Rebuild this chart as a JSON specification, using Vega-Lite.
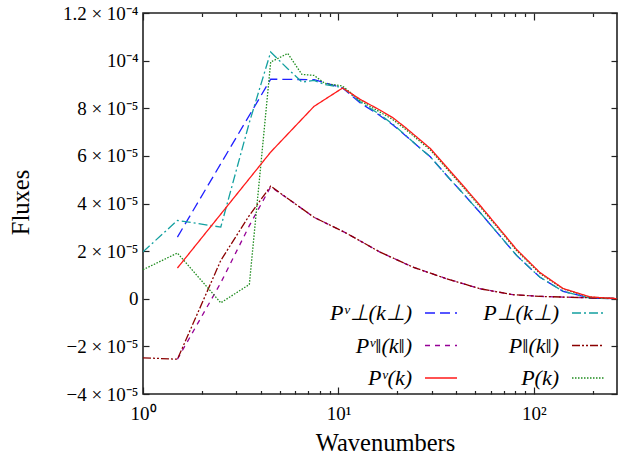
{
  "$schema": "https://vega.github.io/schema/vega-lite/v6.json",
  "width": 474,
  "height": 381,
  "autosize": {"type": "none"},
  "padding": {"left": 143, "top": 13, "right": 1, "bottom": 63},
  "config": {
    "view": {"stroke": "#222", "strokeWidth": 1.6},
    "font": "Liberation Serif",
    "axis": {"domain": false, "grid": false, "labelFont": "Liberation Serif", "labelFontSize": 19, "labelColor": "#000", "tickColor": "#222", "tickWidth": 1.2, "titleFont": "Liberation Serif", "titleFontSize": 24, "titleFontWeight": "normal", "titleColor": "#000", "labelOverlap": false, "labelFlush": false}
  },
  "data": {"values": [
    {"s": "pvperp", "k": 1.5, "f": 2.59e-5},
    {"s": "pvperp", "k": 4.5, "f": 9.22e-5},
    {"s": "pvperp", "k": 7.5, "f": 9.2e-5},
    {"s": "pvperp", "k": 10.5, "f": 8.85e-5},
    {"s": "pvperp", "k": 13, "f": 8.21e-5},
    {"s": "pvperp", "k": 16, "f": 7.74e-5},
    {"s": "pvperp", "k": 19, "f": 7.30e-5},
    {"s": "pvperp", "k": 22, "f": 6.86e-5},
    {"s": "pvperp", "k": 26, "f": 6.34e-5},
    {"s": "pvperp", "k": 29.5, "f": 5.96e-5},
    {"s": "pvperp", "k": 37, "f": 5.04e-5},
    {"s": "pvperp", "k": 43.5, "f": 4.41e-5},
    {"s": "pvperp", "k": 53, "f": 3.62e-5},
    {"s": "pvperp", "k": 64.5, "f": 2.80e-5},
    {"s": "pvperp", "k": 81.5, "f": 1.82e-5},
    {"s": "pvperp", "k": 107, "f": 0.91e-5},
    {"s": "pvperp", "k": 141, "f": 0.31e-5},
    {"s": "pvperp", "k": 193, "f": 0.03e-5},
    {"s": "pvperp", "k": 265, "f": 0.0},

    {"s": "pvpar", "k": 1.5, "f": -2.54e-5},
    {"s": "pvpar", "k": 2.5, "f": 0.67e-5},
    {"s": "pvpar", "k": 3.5, "f": 3.07e-5},
    {"s": "pvpar", "k": 4.5, "f": 4.7e-5},
    {"s": "pvpar", "k": 5.5, "f": 4.21e-5},
    {"s": "pvpar", "k": 7.5, "f": 3.42e-5},
    {"s": "pvpar", "k": 11, "f": 2.75e-5},
    {"s": "pvpar", "k": 16.3, "f": 1.96e-5},
    {"s": "pvpar", "k": 24, "f": 1.33e-5},
    {"s": "pvpar", "k": 35.7, "f": 0.84e-5},
    {"s": "pvpar", "k": 53, "f": 0.42e-5},
    {"s": "pvpar", "k": 78, "f": 0.17e-5},
    {"s": "pvpar", "k": 107, "f": 0.10e-5},
    {"s": "pvpar", "k": 141, "f": 0.07e-5},
    {"s": "pvpar", "k": 193, "f": 0.04e-5},
    {"s": "pvpar", "k": 265, "f": 0.01e-5},

    {"s": "pperp", "k": 1, "f": 1.97e-5},
    {"s": "pperp", "k": 1.5, "f": 3.29e-5},
    {"s": "pperp", "k": 2.5, "f": 3.01e-5},
    {"s": "pperp", "k": 3.5, "f": 7.4e-5},
    {"s": "pperp", "k": 4.5, "f": 10.36e-5},
    {"s": "pperp", "k": 5.5, "f": 9.66e-5},
    {"s": "pperp", "k": 6.5, "f": 9.1e-5},
    {"s": "pperp", "k": 7.5, "f": 9.17e-5},
    {"s": "pperp", "k": 8.5, "f": 9.0e-5},
    {"s": "pperp", "k": 10.5, "f": 8.87e-5},
    {"s": "pperp", "k": 13, "f": 8.25e-5},
    {"s": "pperp", "k": 16, "f": 7.78e-5},
    {"s": "pperp", "k": 19, "f": 7.33e-5},
    {"s": "pperp", "k": 22, "f": 6.87e-5},
    {"s": "pperp", "k": 26, "f": 6.34e-5},
    {"s": "pperp", "k": 29.5, "f": 5.96e-5},
    {"s": "pperp", "k": 37, "f": 5.04e-5},
    {"s": "pperp", "k": 43.5, "f": 4.41e-5},
    {"s": "pperp", "k": 53, "f": 3.62e-5},
    {"s": "pperp", "k": 64.5, "f": 2.80e-5},
    {"s": "pperp", "k": 81.5, "f": 1.82e-5},
    {"s": "pperp", "k": 107, "f": 0.91e-5},
    {"s": "pperp", "k": 141, "f": 0.31e-5},
    {"s": "pperp", "k": 193, "f": 0.03e-5},
    {"s": "pperp", "k": 265, "f": 0.0},

    {"s": "ppar", "k": 1, "f": -2.48e-5},
    {"s": "ppar", "k": 1.5, "f": -2.54e-5},
    {"s": "ppar", "k": 2.5, "f": 1.61e-5},
    {"s": "ppar", "k": 3.5, "f": 3.5e-5},
    {"s": "ppar", "k": 4.5, "f": 4.73e-5},
    {"s": "ppar", "k": 5.5, "f": 4.21e-5},
    {"s": "ppar", "k": 7.5, "f": 3.42e-5},
    {"s": "ppar", "k": 11, "f": 2.75e-5},
    {"s": "ppar", "k": 16.3, "f": 1.96e-5},
    {"s": "ppar", "k": 24, "f": 1.33e-5},
    {"s": "ppar", "k": 35.7, "f": 0.84e-5},
    {"s": "ppar", "k": 53, "f": 0.42e-5},
    {"s": "ppar", "k": 78, "f": 0.17e-5},
    {"s": "ppar", "k": 107, "f": 0.10e-5},
    {"s": "ppar", "k": 141, "f": 0.07e-5},
    {"s": "ppar", "k": 193, "f": 0.04e-5},
    {"s": "ppar", "k": 265, "f": 0.01e-5},

    {"s": "p", "k": 1, "f": 1.22e-5},
    {"s": "p", "k": 1.5, "f": 1.92e-5},
    {"s": "p", "k": 2.5, "f": -0.17e-5},
    {"s": "p", "k": 3.5, "f": 0.6e-5},
    {"s": "p", "k": 4.5, "f": 9.94e-5},
    {"s": "p", "k": 5.5, "f": 10.3e-5},
    {"s": "p", "k": 6.5, "f": 9.42e-5},
    {"s": "p", "k": 7.5, "f": 9.38e-5},
    {"s": "p", "k": 8.5, "f": 9.05e-5},
    {"s": "p", "k": 10.5, "f": 8.93e-5},
    {"s": "p", "k": 13, "f": 8.3e-5},
    {"s": "p", "k": 16, "f": 7.88e-5},
    {"s": "p", "k": 19, "f": 7.52e-5},
    {"s": "p", "k": 22, "f": 7.12e-5},
    {"s": "p", "k": 26, "f": 6.62e-5},
    {"s": "p", "k": 29.5, "f": 6.25e-5},
    {"s": "p", "k": 37, "f": 5.33e-5},
    {"s": "p", "k": 43.5, "f": 4.68e-5},
    {"s": "p", "k": 53, "f": 3.86e-5},
    {"s": "p", "k": 64.5, "f": 3.03e-5},
    {"s": "p", "k": 81.5, "f": 2.02e-5},
    {"s": "p", "k": 107, "f": 1.07e-5},
    {"s": "p", "k": 141, "f": 0.41e-5},
    {"s": "p", "k": 193, "f": 0.07e-5},
    {"s": "p", "k": 265, "f": 0.0},

    {"s": "pv", "k": 1.5, "f": 1.29e-5},
    {"s": "pv", "k": 4.5, "f": 6.16e-5},
    {"s": "pv", "k": 7.5, "f": 8.08e-5},
    {"s": "pv", "k": 10.5, "f": 8.85e-5},
    {"s": "pv", "k": 13, "f": 8.36e-5},
    {"s": "pv", "k": 16, "f": 7.96e-5},
    {"s": "pv", "k": 19, "f": 7.60e-5},
    {"s": "pv", "k": 22, "f": 7.19e-5},
    {"s": "pv", "k": 26, "f": 6.69e-5},
    {"s": "pv", "k": 29.5, "f": 6.31e-5},
    {"s": "pv", "k": 37, "f": 5.39e-5},
    {"s": "pv", "k": 43.5, "f": 4.74e-5},
    {"s": "pv", "k": 53, "f": 3.92e-5},
    {"s": "pv", "k": 64.5, "f": 3.08e-5},
    {"s": "pv", "k": 81.5, "f": 2.07e-5},
    {"s": "pv", "k": 107, "f": 1.11e-5},
    {"s": "pv", "k": 141, "f": 0.43e-5},
    {"s": "pv", "k": 193, "f": 0.08e-5},
    {"s": "pv", "k": 265, "f": 0.0}
  ]},
  "layer": [
    {
      "mark": {"type": "line", "strokeWidth": 1.3, "clip": true},
      "encoding": {
        "x": {"field": "k", "type": "quantitative",
          "scale": {"type": "log", "domain": [1, 266], "nice": false},
          "axis": {
            "values": [1,2,3,4,5,6,7,8,9,10,20,30,40,50,60,70,80,90,100,200],
            "labelExpr": "datum.value==1?'10⁰':datum.value==10?'10¹':datum.value==100?'10²':''",
            "tickSize": {"condition": {"test": "datum.value==1||datum.value==10||datum.value==100", "value": -7}, "value": -3.5},
            "labelPadding": 17,
            "labelBaseline": "top",
            "title": "Wavenumbers",
            "titleX": 242, "titleY": 56.5, "titleAlign": "center", "titleBaseline": "alphabetic", "titleFontSize": 24.5
          }
        },
        "y": {"field": "f", "type": "quantitative",
          "scale": {"domain": [-4e-5, 1.2e-4], "nice": false, "zero": false},
          "axis": {
            "values": [-4e-5, -2e-5, 0, 2e-5, 4e-5, 6e-5, 8e-5, 1e-4, 1.2e-4],
            "labelExpr": "round(datum.value*1e6)==120?'1.2 × 10⁻⁴':round(datum.value*1e6)==100?'10⁻⁴':round(datum.value*1e6)==0?'0':(round(datum.value*1e5)<0?'−':'')+abs(round(datum.value*1e5))+' × 10⁻⁵'",
            "tickSize": -6,
            "labelPadding": 11,
            "title": "Fluxes",
            "titleAngle": -90, "titleX": -122, "titleY": 189, "titleAlign": "center", "titleBaseline": "middle", "titleFontSize": 24.5
          }
        },
        "color": {"field": "s", "type": "nominal",
          "scale": {"domain": ["pvperp", "pvpar", "pv", "pperp", "ppar", "p"], "range": ["#1f1fff", "#960096", "#ff1a1a", "#13a0a0", "#8b0000", "#1e8c1e"]},
          "legend": {"title": null, "orient": "none", "legendX": 281, "legendY": 283, "columns": 2, "symbolType": "stroke", "symbolSize": 1024, "symbolStrokeWidth": 1.5, "labelFont": "Liberation Serif", "labelFontStyle": "italic", "labelFontSize": 22, "labelColor": "#000", "labelAlign": "right", "labelOffset": -46, "labelLimit": 0, "rowPadding": 4.5, "columnPadding": 23,
            "labelExpr": "datum.value=='pvperp'?'Pᵛ⊥(k⊥)':datum.value=='pperp'?'P⊥(k⊥)':datum.value=='pvpar'?'Pᵛ‖(k‖)':datum.value=='ppar'?'P‖(k‖)':datum.value=='pv'?'Pᵛ(k)':'P(k)'"}
        },
        "strokeDash": {"field": "s", "type": "nominal",
          "scale": {"domain": ["pvperp", "pvpar", "pv", "pperp", "ppar", "p"], "range": [[10, 5], [5, 5], [1, 0], [9, 3, 2, 3], [8, 2, 2, 2, 2, 2], [1.5, 1.5]]},
          "legend": {"title": null, "orient": "none", "legendX": 281, "legendY": 283, "columns": 2, "symbolType": "stroke", "symbolSize": 1024, "symbolStrokeWidth": 1.5, "labelFont": "Liberation Serif", "labelFontStyle": "italic", "labelFontSize": 22, "labelColor": "#000", "labelAlign": "right", "labelOffset": -46, "labelLimit": 0, "rowPadding": 4.5, "columnPadding": 23,
            "labelExpr": "datum.value=='pvperp'?'Pᵛ⊥(k⊥)':datum.value=='pperp'?'P⊥(k⊥)':datum.value=='pvpar'?'Pᵛ‖(k‖)':datum.value=='ppar'?'P‖(k‖)':datum.value=='pv'?'Pᵛ(k)':'P(k)'"}
        }
      }
    },
    {
      "mark": {"type": "point", "opacity": 0},
      "encoding": {
        "x": {"field": "k", "type": "quantitative",
          "axis": {"orient": "top", "values": [1,2,3,4,5,6,7,8,9,10,20,30,40,50,60,70,80,90,100,200], "labels": false, "title": null,
            "tickSize": {"condition": {"test": "datum.value==1||datum.value==10||datum.value==100", "value": -7}, "value": -3.5}}
        },
        "y": {"field": "f", "type": "quantitative",
          "axis": {"orient": "right", "values": [-4e-5, -2e-5, 0, 2e-5, 4e-5, 6e-5, 8e-5, 1e-4, 1.2e-4], "labels": false, "title": null, "tickSize": -6}
        }
      }
    }
  ],
  "resolve": {"axis": {"x": "independent", "y": "independent"}}
}
